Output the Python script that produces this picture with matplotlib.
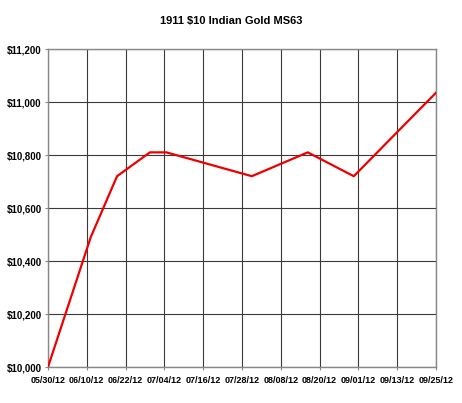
import numpy as np
import matplotlib
matplotlib.use("Agg")
import matplotlib.pyplot as plt
from matplotlib.ticker import FuncFormatter

# days after 05/30/12 and price in dollars
days = [0, 13, 21, 31, 36, 62, 79, 93, 118]
prices = [10000, 10490, 10720, 10810, 10810, 10720, 10810, 10720, 11035]
tick_labels = ["05/30/12", "06/10/12", "06/22/12", "07/04/12", "07/16/12", "07/28/12",
               "08/08/12", "08/20/12", "09/01/12", "09/13/12", "09/25/12"]
title = "1911 $10 Indian Gold MS63"

plt.rcParams['font.family'] = ['Liberation Sans', 'DejaVu Sans']

fig = plt.figure(figsize=(4.62, 4.03), dpi=100)
ax = fig.add_axes([0.1039, 0.0893, 0.9437 - 0.1039, 0.8784 - 0.0893])

ax.plot(days, prices, color='#ee0000', linewidth=1.6, zorder=3)

ax.set_xlim(0, 118)
ax.set_ylim(10000, 11200)
ax.set_xticks(np.linspace(0, 118, len(tick_labels)))
ax.set_xticklabels(tick_labels, fontsize=6.5, fontweight='bold')
ax.set_yticks(np.arange(10000, 11201, 200))
ax.yaxis.set_major_formatter(FuncFormatter(lambda v, p: "${:,.0f}".format(v)))
for lab in ax.get_yticklabels():
    lab.set_fontsize(7)
    lab.set_fontweight('bold')

ax.grid(True, color='#3a3a3a', linewidth=0.8)
for s in ax.spines.values():
    s.set_color('#888888')
    s.set_linewidth(1.0)
ax.tick_params(axis='both', length=2.5, width=0.8, color='#888888', pad=2)
ax.tick_params(axis='x', pad=4)

fig.text(0.5, 1 - 21 / 403, title, ha='center', va='center', fontsize=8, fontweight='bold')

fig.savefig("out.png", dpi=100)
